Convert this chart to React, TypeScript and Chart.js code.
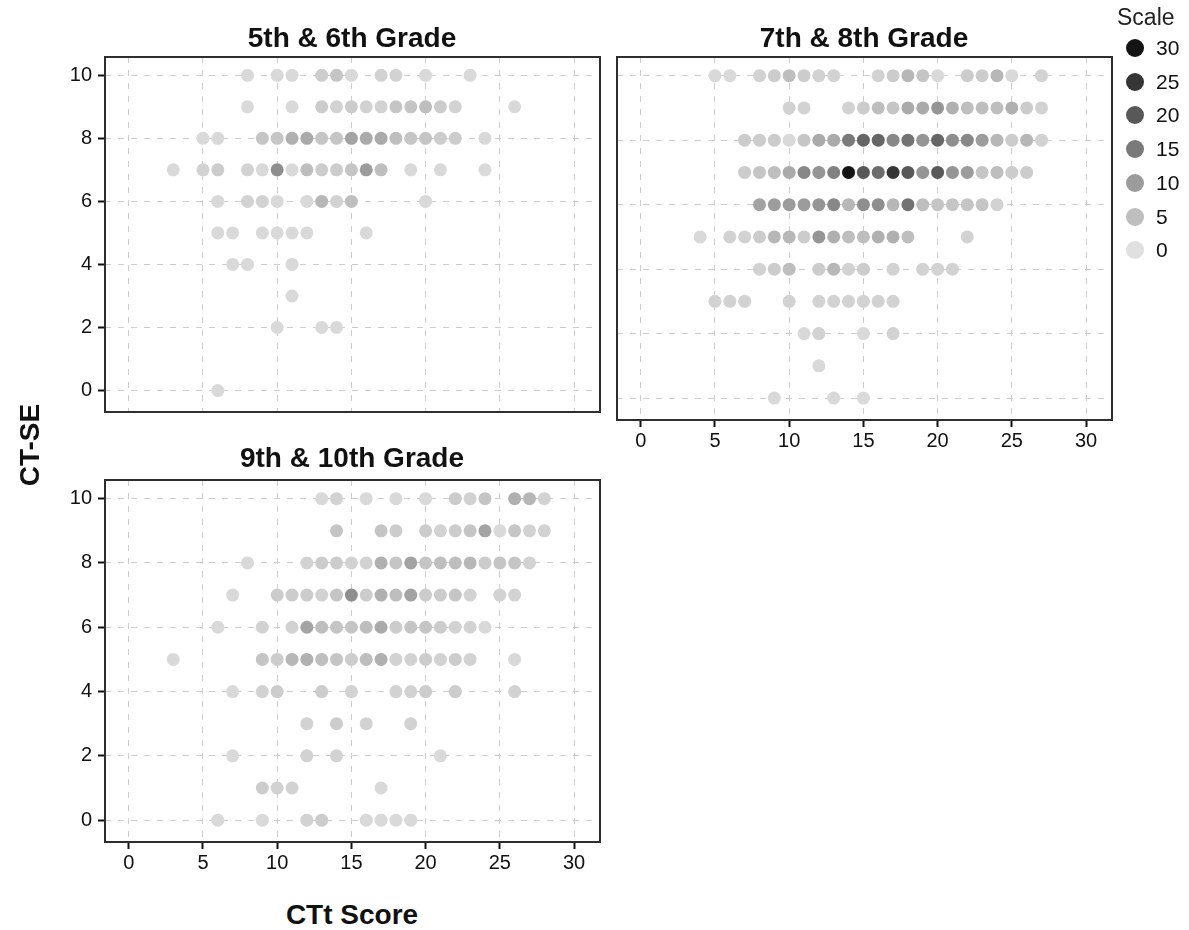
import React, { useEffect, useRef } from "react";
import { Chart, registerables } from "chart.js";
Chart.register(...registerables);

const X_TICKS = [0, 5, 10, 15, 20, 25, 30];
const Y_TICKS = [0, 2, 4, 6, 8, 10];
const LEGEND_VALUES = [30, 25, 20, 15, 10, 5, 0];
const PANEL_TITLES = ["5th & 6th Grade", "7th & 8th Grade", "9th & 10th Grade"];
const X_TITLE = "CTt Score";
const Y_TITLE = "CT-SE";
const LEGEND_TITLE = "Scale";

// [CTt score, CT-SE, count]
const grade56 = [
  [8, 10, 1], [10, 10, 1], [11, 10, 1], [13, 10, 3], [14, 10, 4], [15, 10, 1], [17, 10, 2], [18, 10, 2], [20, 10, 1], [23, 10, 1],
  [8, 9, 1], [11, 9, 1], [13, 9, 3], [14, 9, 2], [15, 9, 3], [16, 9, 2], [17, 9, 2], [18, 9, 4], [19, 9, 4], [20, 9, 5], [21, 9, 3], [22, 9, 2], [26, 9, 1],
  [5, 8, 1], [6, 8, 1], [9, 8, 4], [10, 8, 4], [11, 8, 7], [12, 8, 8], [13, 8, 4], [14, 8, 4], [15, 8, 9], [16, 8, 8], [17, 8, 8], [18, 8, 5], [19, 8, 4], [20, 8, 4], [21, 8, 3], [22, 8, 3], [24, 8, 1],
  [3, 7, 1], [5, 7, 2], [6, 7, 3], [8, 7, 2], [9, 7, 1], [10, 7, 12], [11, 7, 1], [12, 7, 5], [13, 7, 3], [14, 7, 3], [15, 7, 4], [16, 7, 10], [17, 7, 5], [19, 7, 1], [21, 7, 1], [24, 7, 1],
  [6, 6, 1], [8, 6, 2], [9, 6, 2], [10, 6, 1], [12, 6, 1], [13, 6, 6], [14, 6, 2], [15, 6, 5], [20, 6, 1],
  [6, 5, 1], [7, 5, 1], [9, 5, 1], [10, 5, 1], [11, 5, 1], [12, 5, 1], [16, 5, 1],
  [7, 4, 1], [8, 4, 1], [11, 4, 1],
  [11, 3, 1],
  [10, 2, 1], [13, 2, 1], [14, 2, 1],
  [6, 0, 1],
];

const grade78 = [
  [5, 10, 1], [6, 10, 1], [8, 10, 2], [9, 10, 3], [10, 10, 5], [11, 10, 3], [12, 10, 2], [13, 10, 2], [16, 10, 2], [17, 10, 3], [18, 10, 6], [19, 10, 4], [20, 10, 1], [22, 10, 3], [23, 10, 3], [24, 10, 6], [25, 10, 1], [27, 10, 2],
  [10, 9, 2], [11, 9, 2], [14, 9, 2], [15, 9, 3], [16, 9, 5], [17, 9, 4], [18, 9, 8], [19, 9, 8], [20, 9, 11], [21, 9, 7], [22, 9, 5], [23, 9, 5], [24, 9, 5], [25, 9, 7], [26, 9, 3], [27, 9, 2],
  [7, 8, 3], [8, 8, 3], [9, 8, 3], [10, 8, 1], [11, 8, 4], [12, 8, 8], [13, 8, 8], [14, 8, 15], [15, 8, 18], [16, 8, 18], [17, 8, 13], [18, 8, 16], [19, 8, 11], [20, 8, 18], [21, 8, 12], [22, 8, 13], [23, 8, 10], [24, 8, 6], [25, 8, 3], [26, 8, 6], [27, 8, 2],
  [7, 7, 3], [8, 7, 4], [9, 7, 5], [10, 7, 8], [11, 7, 13], [12, 7, 11], [13, 7, 14], [14, 7, 30], [15, 7, 20], [16, 7, 17], [17, 7, 25], [18, 7, 20], [19, 7, 11], [20, 7, 20], [21, 7, 11], [22, 7, 10], [23, 7, 4], [24, 7, 5], [25, 7, 3], [26, 7, 3],
  [8, 6, 9], [9, 6, 10], [10, 6, 10], [11, 6, 10], [12, 6, 11], [13, 6, 13], [14, 6, 6], [15, 6, 12], [16, 6, 12], [17, 6, 6], [18, 6, 16], [19, 6, 5], [20, 6, 4], [21, 6, 4], [22, 6, 4], [23, 6, 4], [24, 6, 2],
  [4, 5, 1], [6, 5, 2], [7, 5, 2], [8, 5, 3], [9, 5, 6], [10, 5, 6], [11, 5, 3], [12, 5, 11], [13, 5, 7], [14, 5, 5], [15, 5, 5], [16, 5, 7], [17, 5, 7], [18, 5, 5], [22, 5, 2],
  [8, 4, 2], [9, 4, 3], [10, 4, 5], [12, 4, 3], [13, 4, 6], [14, 4, 2], [15, 4, 3], [17, 4, 2], [19, 4, 2], [20, 4, 2], [21, 4, 2],
  [5, 3, 2], [6, 3, 2], [7, 3, 2], [10, 3, 2], [12, 3, 2], [13, 3, 2], [14, 3, 2], [15, 3, 2], [16, 3, 2], [17, 3, 2],
  [11, 2, 1], [12, 2, 2], [15, 2, 1], [17, 2, 2],
  [12, 1, 1],
  [9, 0, 1], [13, 0, 1], [15, 0, 1],
];

const grade910 = [
  [13, 10, 1], [14, 10, 2], [16, 10, 1], [18, 10, 1], [20, 10, 1], [22, 10, 3], [23, 10, 2], [24, 10, 4], [26, 10, 7], [27, 10, 6], [28, 10, 2],
  [14, 9, 4], [17, 9, 4], [18, 9, 3], [20, 9, 3], [21, 9, 2], [22, 9, 3], [23, 9, 4], [24, 9, 9], [25, 9, 1], [26, 9, 4], [27, 9, 2], [28, 9, 2],
  [8, 8, 1], [12, 8, 2], [13, 8, 3], [14, 8, 3], [15, 8, 2], [16, 8, 2], [17, 8, 7], [18, 8, 4], [19, 8, 9], [20, 8, 4], [21, 8, 5], [22, 8, 5], [23, 8, 6], [24, 8, 3], [25, 8, 4], [26, 8, 4], [27, 8, 2],
  [7, 7, 1], [10, 7, 3], [11, 7, 3], [12, 7, 3], [13, 7, 2], [14, 7, 4], [15, 7, 12], [16, 7, 3], [17, 7, 7], [18, 7, 5], [19, 7, 9], [20, 7, 3], [21, 7, 3], [22, 7, 4], [23, 7, 2], [25, 7, 2], [26, 7, 2],
  [6, 6, 1], [9, 6, 2], [11, 6, 2], [12, 6, 9], [13, 6, 5], [14, 6, 4], [15, 6, 4], [16, 6, 5], [17, 6, 8], [18, 6, 3], [19, 6, 4], [20, 6, 4], [21, 6, 3], [22, 6, 2], [23, 6, 2], [24, 6, 1],
  [3, 5, 1], [9, 5, 4], [10, 5, 3], [11, 5, 6], [12, 5, 7], [13, 5, 5], [14, 5, 4], [15, 5, 3], [16, 5, 5], [17, 5, 7], [18, 5, 2], [19, 5, 2], [20, 5, 3], [21, 5, 2], [22, 5, 3], [23, 5, 2], [26, 5, 1],
  [7, 4, 1], [9, 4, 2], [10, 4, 3], [13, 4, 3], [15, 4, 2], [18, 4, 2], [19, 4, 2], [20, 4, 3], [22, 4, 3], [26, 4, 2],
  [12, 3, 2], [14, 3, 3], [16, 3, 2], [19, 3, 2],
  [7, 2, 1], [12, 2, 2], [14, 2, 2], [21, 2, 1],
  [9, 1, 3], [10, 1, 2], [11, 1, 2], [17, 1, 1],
  [6, 0, 1], [9, 0, 1], [12, 0, 2], [13, 0, 3], [16, 0, 1], [17, 0, 1], [18, 0, 1], [19, 0, 1],
];

const FONT = "'Liberation Sans', Arial, sans-serif";

function shade(count: number) {
  const v = Math.round(224 - 6.8 * Math.max(0, Math.min(30, count)));
  return `rgb(${v},${v},${v})`;
}

const boxPlugin = {
  id: "box",
  afterDraw(chart: any) {
    const { ctx, chartArea: a } = chart;
    ctx.save();
    ctx.strokeStyle = "#2e2e2e";
    ctx.lineWidth = 2;
    ctx.strokeRect(a.left, a.top, a.right - a.left, a.bottom - a.top);
    ctx.restore();
  },
};

type PanelCfg = {
  showX: boolean;
  showY: boolean;
  yWidth: number;
  xHeight: number;
  padTop: number;
  padRight: number;
};

function makeChart(canvas: HTMLCanvasElement, points: number[][], cfg: PanelCfg) {
  return new Chart(canvas, {
    type: "scatter",
    data: {
      datasets: [
        {
          data: points.map((p) => ({ x: p[0], y: p[1] })),
          backgroundColor: points.map((p) => shade(p[2])),
          pointRadius: 6.5,
          pointHoverRadius: 6.5,
          pointBorderWidth: 0,
          borderWidth: 0,
        } as any,
      ],
    },
    options: {
      responsive: false,
      animation: false,
      devicePixelRatio: 1,
      events: [],
      layout: { padding: { top: cfg.padTop, right: cfg.padRight, left: 0, bottom: 0 } },
      plugins: { legend: { display: false }, tooltip: { enabled: false }, title: { display: false } },
      scales: {
        x: {
          type: "linear",
          min: -1.6,
          max: 31.75,
          afterBuildTicks: (s: any) => {
            s.ticks = X_TICKS.map((v) => ({ value: v }));
          },
          afterFit: (s: any) => {
            s.height = cfg.xHeight;
          },
          ticks: {
            display: cfg.showX,
            font: { family: FONT, size: 20 },
            color: "#111",
            padding: 2,
            maxRotation: 0,
            autoSkip: false,
          },
          grid: {
            color: "#cdcdcd",
            lineWidth: 1,
            drawTicks: cfg.showX,
            tickLength: 7,
            tickColor: "#111",
            tickWidth: 2,
            tickBorderDash: [],
          } as any,
          border: { display: false, dash: [6, 7] },
        },
        y: {
          type: "linear",
          min: -0.68,
          max: 10.58,
          afterBuildTicks: (s: any) => {
            s.ticks = Y_TICKS.map((v) => ({ value: v }));
          },
          afterFit: (s: any) => {
            s.width = cfg.yWidth;
          },
          ticks: {
            display: cfg.showY,
            font: { family: FONT, size: 20 },
            color: "#111",
            padding: 6,
            autoSkip: false,
          },
          grid: {
            color: "#cdcdcd",
            lineWidth: 1,
            drawTicks: cfg.showY,
            tickLength: 7,
            tickColor: "#111",
            tickWidth: 2,
            tickBorderDash: [],
          } as any,
          border: { display: false, dash: [6, 7] },
        },
      },
    },
    plugins: [boxPlugin],
  } as any);
}

export default function App() {
  const r1 = useRef<HTMLCanvasElement>(null);
  const r2 = useRef<HTMLCanvasElement>(null);
  const r3 = useRef<HTMLCanvasElement>(null);

  useEffect(() => {
    const c1 = makeChart(r1.current!, grade56, { showX: false, showY: true, yWidth: 105, xHeight: 10, padTop: 57, padRight: 10 });
    const c2 = makeChart(r2.current!, grade78, { showX: true, showY: false, yWidth: 17, xHeight: 40, padTop: 57, padRight: 8 });
    const c3 = makeChart(r3.current!, grade910, { showX: true, showY: true, yWidth: 105, xHeight: 38, padTop: 50, padRight: 10 });
    return () => {
      c1.destroy();
      c2.destroy();
      c3.destroy();
    };
  }, []);

  const titleStyle = (cx: number, cy: number): React.CSSProperties => ({
    position: "absolute",
    left: cx - 200,
    top: cy - 16,
    width: 400,
    height: 32,
    lineHeight: "32px",
    textAlign: "center",
    fontFamily: FONT,
    fontWeight: "bold",
    fontSize: 28,
    color: "#111",
    whiteSpace: "nowrap",
  });

  return (
    <div style={{ position: "absolute", left: 0, top: 0, width: 1189, height: 930, background: "#fff", overflow: "hidden" }}>
      <canvas ref={r1} width={610} height={430} style={{ position: "absolute", left: 0, top: 0 }} />
      <canvas ref={r2} width={520} height={460} style={{ position: "absolute", left: 600, top: 0 }} />
      <canvas ref={r3} width={610} height={450} style={{ position: "absolute", left: 0, top: 430 }} />
      <div style={titleStyle(352, 38)}>{PANEL_TITLES[0]}</div>
      <div style={titleStyle(864, 38)}>{PANEL_TITLES[1]}</div>
      <div style={titleStyle(352, 458)}>{PANEL_TITLES[2]}</div>
      <div style={titleStyle(352, 915)}>{X_TITLE}</div>
      <div style={{ ...titleStyle(30, 445), transform: "rotate(-90deg)" }}>{Y_TITLE}</div>
      <div
        style={{
          position: "absolute",
          left: 1117,
          top: 4,
          fontFamily: FONT,
          fontSize: 23,
          lineHeight: "26px",
          color: "#222",
        }}
      >
        {LEGEND_TITLE}
      </div>
      {LEGEND_VALUES.map((v, i) => {
        const cy = 48 + i * 33.7;
        return (
          <React.Fragment key={v}>
            <div
              style={{
                position: "absolute",
                left: 1135 - 9,
                top: cy - 9,
                width: 18,
                height: 18,
                borderRadius: "50%",
                background: shade(v),
              }}
            />
            <div
              style={{
                position: "absolute",
                left: 1156,
                top: cy - 13,
                height: 26,
                lineHeight: "26px",
                fontFamily: FONT,
                fontSize: 21,
                color: "#111",
              }}
            >
              {v}
            </div>
          </React.Fragment>
        );
      })}
    </div>
  );
}
